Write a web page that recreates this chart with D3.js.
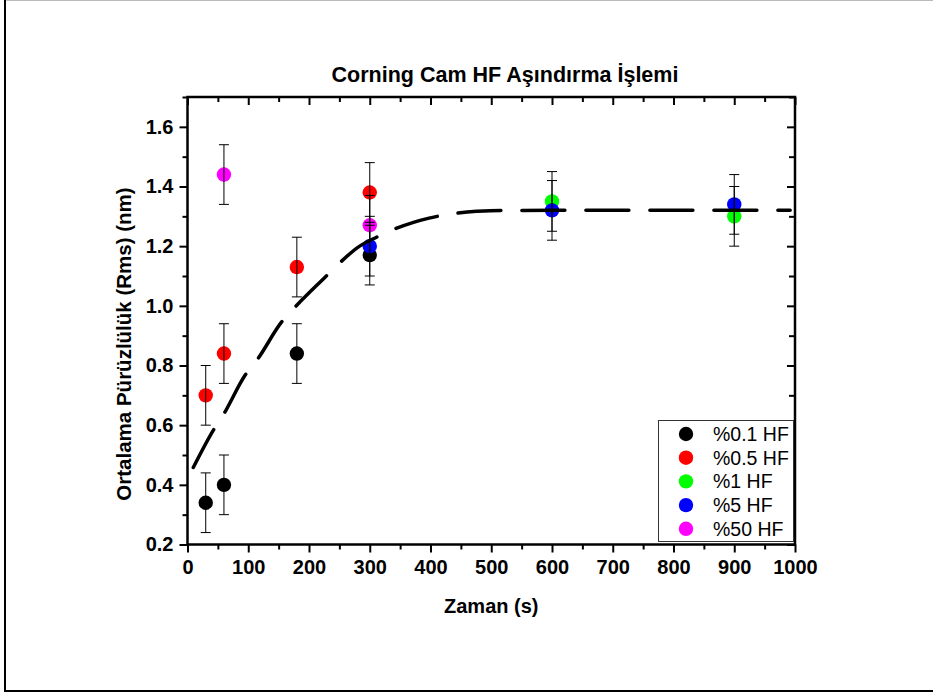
<!DOCTYPE html>
<html>
<head>
<meta charset="utf-8">
<script src="https://cdn.jsdelivr.net/npm/d3@7"></script>
<style>
  html, body { margin: 0; padding: 0; background: #fff; }
  svg { display: block; font-family: Arial, "Liberation Sans", sans-serif; }
</style>
</head>
<body>
<svg id="chart" width="933" height="696"></svg>
<script>
// Etching time (s) and roughness (nm) for each HF concentration
const seriesNames = ["%0.1 HF", "%0.5 HF", "%1 HF", "%5 HF", "%50 HF"];

const hf01Time = [30, 60, 180, 300];
const hf01Rms  = [0.34, 0.40, 0.84, 1.17];
const hf01Err  = [0.1, 0.1, 0.1, 0.1];

const hf05Time = [30, 60, 180, 300];
const hf05Rms  = [0.70, 0.84, 1.13, 1.38];
const hf05Err  = [0.1, 0.1, 0.1, 0.1];

const hf1Time = [600, 900];
const hf1Rms  = [1.35, 1.30];
const hf1Err  = [0.1, 0.1];

const hf5Time = [300, 600, 900];
const hf5Rms  = [1.20, 1.32, 1.34];
const hf5Err  = [0.1, 0.1, 0.1];

const hf50Time = [60, 300];
const hf50Rms  = [1.44, 1.27];
const hf50Err  = [0.1, 0.1];

// Fitted trend curve (dashed)
const fitTime = [9.5, 44, 59, 95, 115, 155, 174, 226, 237, 284, 311, 372, 396, 476, 498, 600, 700, 800, 900, 992];
const fitRms  = [0.458, 0.588, 0.635, 0.768, 0.820, 0.946, 0.989, 1.095, 1.117, 1.201, 1.230, 1.280, 1.293, 1.317, 1.319, 1.32, 1.32, 1.32, 1.32, 1.32];

// Axis ticks
const xTicks = [0, 100, 200, 300, 400, 500, 600, 700, 800, 900, 1000];
const xMinorTicks = [50, 150, 250, 350, 450, 550, 650, 750, 850, 950];
const yTicks = [0.2, 0.4, 0.6, 0.8, 1.0, 1.2, 1.4, 1.6];
const yMinorTicks = [0.3, 0.5, 0.7, 0.9, 1.1, 1.3, 1.5, 1.7];

const seriesColors = ["#000000", "#ff0000", "#00ff00", "#0000ff", "#ff00ff"];

const series = [
  { name: seriesNames[0], t: hf01Time, v: hf01Rms, e: hf01Err },
  { name: seriesNames[1], t: hf05Time, v: hf05Rms, e: hf05Err },
  { name: seriesNames[2], t: hf1Time,  v: hf1Rms,  e: hf1Err },
  { name: seriesNames[3], t: hf5Time,  v: hf5Rms,  e: hf5Err },
  { name: seriesNames[4], t: hf50Time, v: hf50Rms, e: hf50Err }
].map((s, i) => ({ ...s, color: seriesColors[i],
  pts: s.t.map((t, j) => ({ t, v: s.v[j], e: s.e[j] })) }));

const svg = d3.select("#chart");

// Page frame
svg.append("line").attr("x1", 5).attr("x2", 933).attr("y1", 0.5).attr("y2", 0.5)
  .attr("stroke", "#bbb").attr("stroke-width", 1);
svg.append("line").attr("x1", 5).attr("x2", 5).attr("y1", 0).attr("y2", 692)
  .attr("stroke", "#000").attr("stroke-width", 2);
svg.append("line").attr("x1", 4).attr("x2", 933).attr("y1", 691).attr("y2", 691)
  .attr("stroke", "#000").attr("stroke-width", 2);

const L = 187.5, R = 795, T = 97, B = 544.5;
const x = d3.scaleLinear().domain([0, 1000]).range([L, R]);
const y = d3.scaleLinear().domain([0.2, 1.7]).range([B, T]);

const font = "Arial, 'Liberation Sans', sans-serif";

function styleAxis(g) {
  g.select(".domain").remove();
  g.selectAll(".tick line").attr("stroke", "#000").attr("stroke-width", 2);
  g.selectAll("text").attr("font-family", font).attr("font-weight", "bold")
    .attr("font-size", 20).attr("fill", "#000");
}

// Bottom axis (outward ticks, labelled)
svg.append("g").attr("transform", `translate(0,${B})`)
  .call(d3.axisBottom(x).tickValues(xTicks).tickSize(8).tickPadding(7).tickFormat(d3.format("d")))
  .call(styleAxis);
svg.append("g").attr("transform", `translate(0,${B})`)
  .call(d3.axisBottom(x).tickValues(xMinorTicks).tickSize(5).tickFormat(""))
  .call(styleAxis);

// Top axis (inward ticks)
svg.append("g").attr("transform", `translate(0,${T})`)
  .call(d3.axisBottom(x).tickValues(xTicks).tickSize(8).tickFormat(""))
  .call(styleAxis);
svg.append("g").attr("transform", `translate(0,${T})`)
  .call(d3.axisBottom(x).tickValues(xMinorTicks).tickSize(5).tickFormat(""))
  .call(styleAxis);

// Left axis (outward ticks, labelled)
svg.append("g").attr("transform", `translate(${L},0)`)
  .call(d3.axisLeft(y).tickValues(yTicks).tickSize(8).tickPadding(6).tickFormat(d3.format(".1f")))
  .call(styleAxis);
svg.append("g").attr("transform", `translate(${L},0)`)
  .call(d3.axisLeft(y).tickValues(yMinorTicks).tickSize(5).tickFormat(""))
  .call(styleAxis);

// Right axis (inward ticks)
svg.append("g").attr("transform", `translate(${R},0)`)
  .call(d3.axisLeft(y).tickValues(yTicks).tickSize(8).tickFormat(""))
  .call(styleAxis);
svg.append("g").attr("transform", `translate(${R},0)`)
  .call(d3.axisLeft(y).tickValues(yMinorTicks).tickSize(6).tickFormat(""))
  .call(styleAxis);

// Plot frame
svg.append("rect").attr("x", L).attr("y", T).attr("width", R - L).attr("height", B - T)
  .attr("fill", "none").attr("stroke", "#000").attr("stroke-width", 2.5);

// Markers
const plot = svg.append("g");
series.forEach(s => {
  plot.selectAll(null).data(s.pts).enter().append("circle")
    .attr("cx", d => x(d.t)).attr("cy", d => y(d.v)).attr("r", 7.2)
    .attr("fill", s.color);
});

// Error bars
const capW = 5;
series.forEach(s => {
  const eb = plot.append("g").attr("stroke", "#000").attr("stroke-width", 1);
  s.pts.forEach(d => {
    const cx = x(d.t);
    eb.append("line").attr("x1", cx).attr("x2", cx).attr("y1", y(d.v - d.e)).attr("y2", y(d.v + d.e));
    eb.append("line").attr("x1", cx - capW).attr("x2", cx + capW).attr("y1", y(d.v + d.e)).attr("y2", y(d.v + d.e));
    eb.append("line").attr("x1", cx - capW).attr("x2", cx + capW).attr("y1", y(d.v - d.e)).attr("y2", y(d.v - d.e));
  });
});

// Dashed fitted curve
const fitPts = fitTime.map((t, i) => [t, fitRms[i]]);
plot.append("path").datum(fitPts)
  .attr("d", d3.line().x(d => x(d[0])).y(d => y(d[1])).curve(d3.curveMonotoneX))
  .attr("fill", "none").attr("stroke", "#000").attr("stroke-width", 3.5)
  .attr("stroke-linecap", "round")
  .attr("stroke-dasharray", "43,21");

// Title and axis titles
svg.append("text").attr("x", 505).attr("y", 82).attr("text-anchor", "middle")
  .attr("font-family", font).attr("font-weight", "bold").attr("font-size", 21.5)
  .text("Corning Cam HF Aşındırma İşlemi");
svg.append("text").attr("x", (L + R) / 2).attr("y", 613).attr("text-anchor", "middle")
  .attr("font-family", font).attr("font-weight", "bold").attr("font-size", 20)
  .text("Zaman (s)");
svg.append("text").attr("transform", `translate(131,344) rotate(-90)`)
  .attr("text-anchor", "middle")
  .attr("font-family", font).attr("font-weight", "bold").attr("font-size", 20.5)
  .text("Ortalama Pürüzlülük (Rms) (nm)");

// Legend
const lg = svg.append("g");
lg.append("rect").attr("x", 658.5).attr("y", 420.5).attr("width", 135).attr("height", 121)
  .attr("fill", "#fff").attr("stroke", "#333").attr("stroke-width", 1);
series.forEach((s, i) => {
  const cy = 434 + i * 23.7;
  lg.append("circle").attr("cx", 686).attr("cy", cy).attr("r", 7.2).attr("fill", s.color);
  lg.append("text").attr("x", 713).attr("y", cy + 7).attr("font-family", font)
    .attr("font-size", 19.5).attr("fill", "#000").text(s.name);
});
</script>
</body>
</html>
